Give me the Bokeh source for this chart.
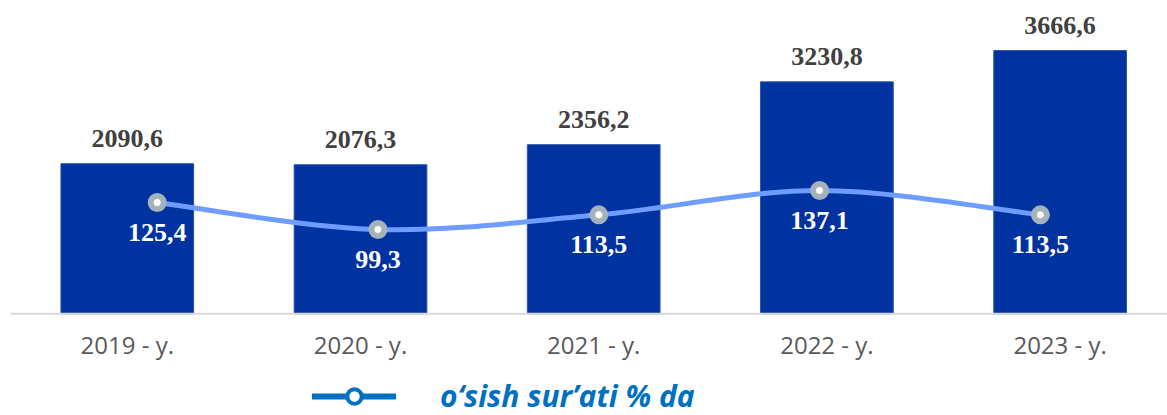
import numpy as np
from bokeh.plotting import figure
from bokeh.models import Range1d, Legend, LegendItem
from bokeh.core.properties import value
from bokeh.embed import file_html
from bokeh.resources import INLINE

# ---- data ----
years = ["2019 - y.", "2020 - y.", "2021 - y.", "2022 - y.", "2023 - y."]
volume = [2090.6, 2076.3, 2356.2, 3230.8, 3666.6]
growth = [125.4, 99.3, 113.5, 137.1, 113.5]
legend_label = "o‘sish sur’ati % da"


def fmt(v):
    return f"{v:.1f}".replace(".", ",")


idx = list(range(len(years)))

W, H = 1167, 415
p = figure(width=W, height=H, output_backend="svg", toolbar_location=None,
           x_range=Range1d(-0.5437, 4.4605), y_range=Range1d(-1416, 4364),
           x_axis_location=None, y_axis_location=None,
           min_border=0, outline_line_color=None,
           background_fill_color="white", border_fill_color="white")
p.grid.visible = False
p.extra_x_ranges = {"line": Range1d(-0.7097, 4.5756)}
p.extra_y_ranges = {"line": Range1d(-80.9, 321.2)}

# bars
p.vbar(x=idx, top=volume, bottom=0, width=0.569,
       fill_color="#0033a0", line_color="#2a52ac", line_width=1)

# category axis line
p.segment(x0=[-0.5], x1=[len(years) - 0.5], y0=[0], y1=[0],
          line_color="#d9d9d9", line_width=2)

# bar value labels
p.text(x=idx, y=volume, text=[fmt(v) for v in volume],
       text_align="center", text_baseline="alphabetic", y_offset=-25,
       text_font=value("Liberation Serif"), text_font_style="bold",
       text_font_size="26px", text_color="#404040")

# category labels
p.text(x=idx, y=[0] * len(years), text=years,
       text_align="center", text_baseline="alphabetic", y_offset=31,
       text_font=value("Open Sans"), text_font_size="24px",
       text_color="#595959")

# smoothed growth line (Catmull-Rom style bezier through the points)
gx = np.array(idx, dtype=float)
gy = np.array(growth, dtype=float)
n = len(gx)
x0, y0, x1, y1, cx0, cy0, cx1, cy1 = [], [], [], [], [], [], [], []
for i in range(n - 1):
    im1 = max(i - 1, 0)
    ip2 = min(i + 2, n - 1)
    x0.append(gx[i]); y0.append(gy[i])
    x1.append(gx[i + 1]); y1.append(gy[i + 1])
    cx0.append(gx[i] + (gx[i + 1] - gx[im1]) / 6)
    cy0.append(gy[i] + (gy[i + 1] - gy[im1]) / 6)
    cx1.append(gx[i + 1] - (gx[ip2] - gx[i]) / 6)
    cy1.append(gy[i + 1] - (gy[ip2] - gy[i]) / 6)
p.bezier(x0=x0, y0=y0, x1=x1, y1=y1, cx0=cx0, cy0=cy0, cx1=cx1, cy1=cy1,
         line_color="#6f9dff", line_width=5,
         x_range_name="line", y_range_name="line")

p.scatter(x=idx, y=growth, size=13, fill_color="white",
          line_color="#a3b2bb", line_width=6,
          x_range_name="line", y_range_name="line")

p.text(x=idx, y=growth, text=[fmt(v) for v in growth],
       text_align="center", text_baseline="alphabetic", y_offset=30,
       text_font=value("Liberation Serif"), text_font_style="bold",
       text_font_size="26px", text_color="white",
       x_range_name="line", y_range_name="line")

# legend glyph renderers: one point placed outside the visible ranges
r1 = p.line(x=[-100, -99], y=[-9000, -9000], line_color="#0070c0",
            line_width=6, line_cap="round")
r2 = p.scatter(x=[-100], y=[-9000], size=18, fill_color="white",
               line_color="#0070c0", line_width=4)
legend = Legend(items=[LegendItem(label=value(legend_label), renderers=[r1, r2])],
                location=(312, -1), orientation="horizontal",
                glyph_width=84, glyph_height=36, label_standoff=44,
                padding=0, margin=0, border_line_color=None,
                background_fill_alpha=0,
                label_text_font="Open Sans", label_text_font_style="bold italic",
                label_text_font_size="30px", label_text_color="#0070c0")
p.add_layout(legend)

open("out.html", "w").write(file_html(p, INLINE))
